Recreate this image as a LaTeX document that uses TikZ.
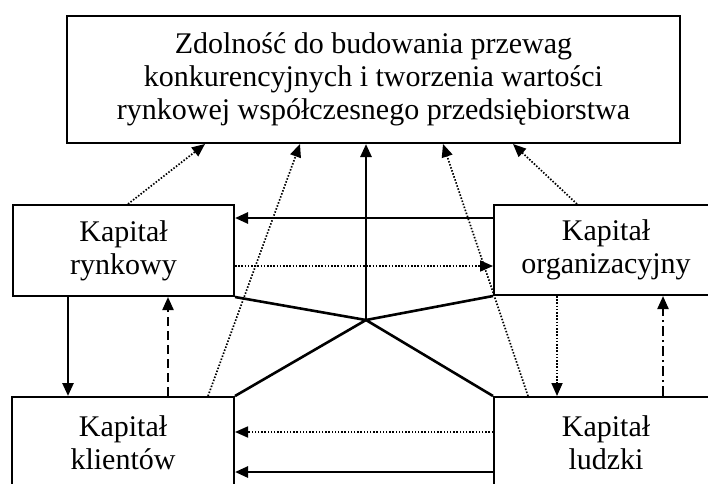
\documentclass[tikz,border=0pt]{standalone}
\usepackage{fontspec}
\setmainfont{Liberation Serif}
\usetikzlibrary{arrows.meta,calc}
\begin{document}
\begin{tikzpicture}[x=1pt,y=-1pt,
  box/.style={draw, line width=2pt, align=center, inner sep=0pt, font=\fontsize{30}{33}\selectfont},
  tip/.style={-{Triangle[length=13pt,width=11pt]}},
  solidarr/.style={line width=2.6pt, tip},
  dotarr/.style={line width=1.7pt, dash pattern=on 1.5pt off 1.7pt, tip},
  dasharr/.style={line width=2.2pt, dash pattern=on 9pt off 5pt, tip},
  dashdotarr/.style={line width=2.2pt, dash pattern=on 10pt off 4pt on 2pt off 4pt, tip},
  starline/.style={line width=2.6pt}
]
\useasboundingbox (0,0) rectangle (708,483);
\clip (0,0) rectangle (708,483);

\node[box, minimum width=613pt, minimum height=127pt] (top) at (373.5,79.5)
  {Zdolność do budowania przewag\\konkurencyjnych i tworzenia wartości\\rynkowej współczesnego przedsiębiorstwa};
\node[box, minimum width=221pt, minimum height=91pt] (rynk) at (123.5,250.5) {Kapitał\\rynkowy};
\node[box, minimum width=224pt, minimum height=90pt] (org) at (606,250) {Kapitał\\organizacyjny};
\node[box, minimum width=222pt, minimum height=91pt] (klient) at (123,442.5) {Kapitał\\klientów};
\node[box, minimum width=224pt, minimum height=91pt] (ludz) at (606,442.5) {Kapitał\\ludzki};

\coordinate (c) at (366,320);

% star
\draw[starline] (rynk.south east) -- (c) -- (klient.north east);
\draw[starline] (org.south west) -- (c) -- (ludz.north west);
\draw[solidarr] (c) -- (c |- top.south);

% arrows to top box
\draw[dotarr] ([xshift=4.5pt]rynk.north) -- ([xshift=-168.5pt]top.south);
\draw[dotarr] ([xshift=85pt]klient.north) -- ([xshift=-73.5pt]top.south);
\draw[dotarr] ([xshift=-78pt]ludz.north) -- ([xshift=69.5pt]top.south);
\draw[dotarr] ([xshift=-29pt]org.north) -- ([xshift=139.5pt]top.south);

% horizontal between middle boxes
\coordinate (h1) at ([yshift=32.5pt]rynk.east);
\coordinate (h2) at ([yshift=-15.5pt]rynk.east);
\draw[solidarr] (h1 -| org.west) -- (h1);
\draw[dotarr] (h2) -- (h2 -| org.west);

% horizontal between bottom boxes
\coordinate (h3) at ([yshift=10.5pt]klient.east);
\coordinate (h4) at ([yshift=-29.5pt]klient.east);
\draw[dotarr] (h3 -| ludz.west) -- (h3);
\draw[solidarr] (h4 -| ludz.west) -- (h4);

% vertical left
\coordinate (v1) at ([xshift=-55.5pt]rynk.south);
\coordinate (v2) at ([xshift=44.5pt]rynk.south);
\draw[solidarr] (v1) -- (v1 |- klient.north);
\draw[dasharr] (v2 |- klient.north) -- (v2);

% vertical right
\coordinate (v3) at ([xshift=-49pt]org.south);
\coordinate (v4) at ([xshift=57pt]org.south);
\draw[dotarr] (v3) -- (v3 |- ludz.north);
\draw[dashdotarr] (v4 |- ludz.north) -- (v4);
\end{tikzpicture}
\end{document}
